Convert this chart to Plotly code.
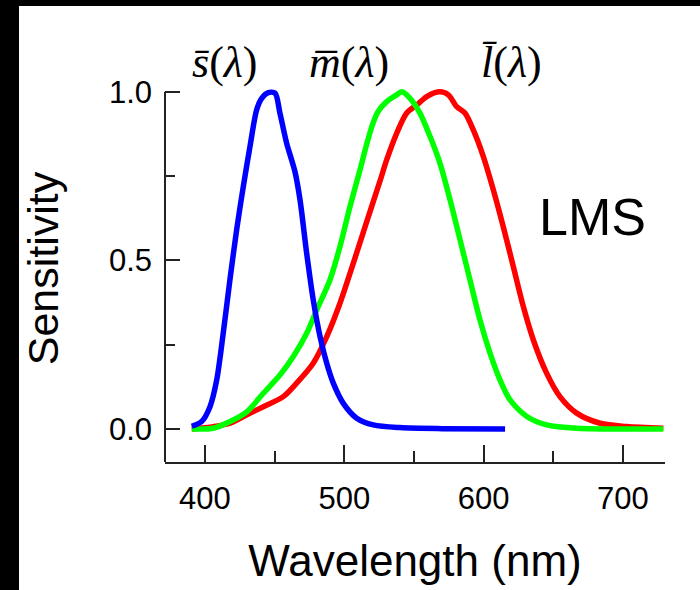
import plotly.graph_objects as go

# S cone (blue)
s_nm = [390.5, 397.6, 403.6, 408.4, 413.1, 417.9, 422.7, 427.5, 432.3, 437.1, 440.7, 445.4,
        450.3, 453.8, 458.6, 464.6, 468.2, 473.0, 477.7, 482.6, 487.4, 492.1, 499.3, 508.9,
        520.8, 540.0, 570.0, 615.4]
s_val = [0.008, 0.022, 0.066, 0.145, 0.284, 0.442, 0.590, 0.719, 0.838, 0.947, 0.981, 0.998,
         0.996, 0.937, 0.848, 0.763, 0.680, 0.521, 0.383, 0.274, 0.195, 0.136, 0.076, 0.032,
         0.012, 0.004, 0.001, 0.0]

# M cone (green)
m_nm = [390.5, 406.0, 418.0, 430.0, 441.9, 453.8, 463.4, 473.0, 480.2, 489.7, 496.9, 504.1,
        511.3, 516.1, 520.0, 524.0, 530.4, 537.6, 541.2, 547.2, 554.3, 561.5, 568.7, 575.9,
        583.1, 590.2, 597.4, 604.6, 611.8, 619.0, 631.0, 645.3, 666.8, 729.0]
m_val = [0.0, 0.002, 0.022, 0.051, 0.106, 0.160, 0.215, 0.284, 0.353, 0.442, 0.541, 0.660,
         0.769, 0.845, 0.900, 0.940, 0.971, 0.991, 1.0, 0.981, 0.937, 0.868, 0.788, 0.680,
         0.561, 0.442, 0.323, 0.225, 0.145, 0.086, 0.037, 0.012, 0.002, 0.0]

# L cone (red)
l_nm = [390.5, 406.0, 418.0, 430.0, 441.9, 456.2, 465.8, 477.7, 487.4, 496.9, 506.5, 516.1,
        525.6, 530.4, 537.6, 544.8, 552.0, 559.2, 568.7, 574.7, 580.7, 586.6, 592.6,
        599.8, 607.0, 614.1, 621.3, 628.5, 635.7, 645.3, 654.8, 666.8, 683.6, 702.7, 729.0]
l_val = [0.0, 0.007, 0.017, 0.042, 0.066, 0.096, 0.136, 0.195, 0.274, 0.373, 0.492, 0.615,
         0.735, 0.798, 0.877, 0.937, 0.961, 0.986, 1.0, 0.991, 0.956, 0.937, 0.887,
         0.808, 0.709, 0.600, 0.482, 0.363, 0.264, 0.165, 0.096, 0.047, 0.017, 0.007, 0.002]

x_ticks = [400, 500, 600, 700]
y_ticks = [0.0, 0.5, 1.0]
y_tick_labels = ["0.0", "0.5", "1.0"]

YMIN, YMAX = -0.098, 1.05
XMIN, XMAX = 371.3, 730.2
PLOT_H = 387.0


def py(v):
    # convert a sensitivity value to paper coordinate
    return (v - YMIN) / (YMAX - YMIN)


fig = go.Figure()
for xs, ys, col in [(l_nm, l_val, "#ff0000"), (m_nm, m_val, "#00ff00"), (s_nm, s_val, "#0000ff")]:
    fig.add_trace(go.Scatter(x=xs, y=ys, mode="lines",
                             line=dict(color=col, width=5.5, shape="spline", smoothing=0.8),
                             showlegend=False, hoverinfo="skip"))

tickfont = dict(family="Liberation Sans, Arial", size=31, color="black")
serif = dict(family="Liberation Serif, Times New Roman", size=44, color="black")
fig.update_layout(
    width=700, height=590,
    margin=dict(l=165, r=35, t=75, b=128),
    paper_bgcolor="white", plot_bgcolor="white",
    xaxis=dict(range=[XMIN, XMAX], tickvals=x_ticks, ticks="inside", ticklen=17, tickwidth=2,
               tickcolor="#222", showline=True, linewidth=2, linecolor="#222", showgrid=False,
               zeroline=False, tickfont=tickfont, ticklabelstandoff=8,
               minor=dict(tickvals=[450, 550, 650], ticks="inside", ticklen=11, tickwidth=2, tickcolor="#222"),
               title=dict(text="Wavelength (nm)", font=dict(family="Liberation Sans, Arial", size=44, color="black"),
                          standoff=30)),
    yaxis=dict(range=[YMIN, YMAX], tickvals=y_ticks, ticktext=y_tick_labels, ticks="inside", ticklen=15,
               tickwidth=2, tickcolor="#222", showline=False, showgrid=False, zeroline=False,
               tickfont=tickfont, ticklabelstandoff=12,
               minor=dict(tickvals=[0.25, 0.75], ticks="inside", ticklen=10, tickwidth=2, tickcolor="#222"),
               title=dict(text="Sensitivity", font=dict(family="Liberation Sans, Arial", size=43, color="black"),
                          standoff=36)),
    shapes=[
        dict(type="line", xref="paper", yref="y", x0=0, x1=0, y0=YMIN, y1=1.0,
             line=dict(color="#222", width=2)),
        dict(type="rect", xref="paper", yref="paper", x0=-165/500, x1=(19-165)/500, y0=-0.34, y1=1.2,
             fillcolor="black", line=dict(width=0), layer="above"),
        dict(type="rect", xref="paper", yref="paper", x0=-0.34, x1=1.1, y0=(462-6)/PLOT_H, y1=1.3,
             fillcolor="black", line=dict(width=0), layer="above"),
    ],
    annotations=[
        dict(x=414.4, y=py(1.086), xref="x", yref="paper", yanchor="middle",
             text="<i>s\u0304</i>(<i>\u03bb</i>)", showarrow=False, font=serif),
        dict(x=503.4, y=py(1.086), xref="x", yref="paper", yanchor="middle",
             text="<i>m\u0305</i>(<i>\u03bb</i>)", showarrow=False, font=serif),
        dict(x=619.7, y=py(1.086), xref="x", yref="paper", yanchor="middle",
             text="<i>l\u0304</i>(<i>\u03bb</i>)", showarrow=False, font=serif),
        dict(x=677.8, y=0.629, xref="x", yref="y", text="LMS", showarrow=False,
             font=dict(family="Liberation Sans, Arial", size=52, color="black")),
    ],
)

fig.write_html("out.html")
